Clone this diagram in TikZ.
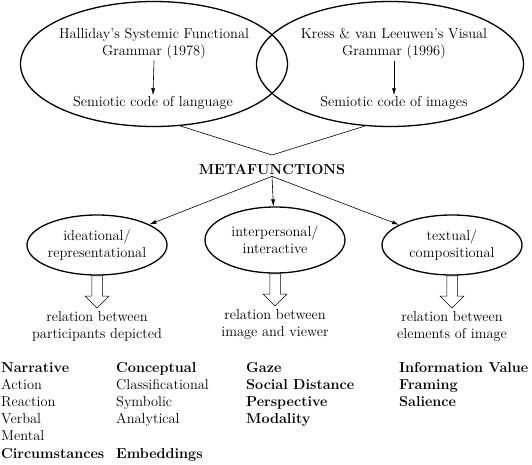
\documentclass[tikz,border=0pt]{standalone}
\usetikzlibrary{shapes.geometric, shapes.arrows, arrows.meta, positioning}

\begin{document}
\begin{tikzpicture}[
  x=1pt, y=-1pt,
  font=\fontsize{14.4}{17.2}\selectfont,
  node distance=2pt and 10pt,
  big/.style={
    draw,
    ellipse,
    line width=1.3pt,
    minimum width=267pt,
    minimum height=125pt
  },
  oval/.style={
    draw,
    ellipse,
    align=center,
    line width=1.3pt,
    inner sep=0pt,
    minimum width=140pt,
    minimum height=60pt
  },
  txt/.style={align=center, inner sep=1pt},
  hollow/.style={
    draw,
    single arrow,
    rotate=-90,
    line width=0.5pt,
    inner sep=5pt,
    minimum height=32pt,
    single arrow head extend=6.5pt
  },
  list/.style={align=left, anchor=north west, inner sep=0pt},
  arrow/.style={-{Latex[length=7pt, width=4pt]}, line width=0.6pt}
]
\useasboundingbox (0,0) rectangle (532,464);

% theories
\node[big] (hall) at (154,64) {};
\node[big] (kress) at (390,64) {};
\node[txt] (hallT) at (154,44) {Halliday's Systemic Functional\\Grammar (1978)};
\node[txt] (lang) at (153,103) {Semiotic code of language};
\node[txt] (kressT) at (394,44) {Kress \& van Leeuwen's Visual\\Grammar (1996)};
\node[txt] (img) at (394,103) {Semiotic code of images};
\draw[arrow] (hallT.south) -- (lang.north);
\draw[arrow] (kressT.south) -- (img.north);

\coordinate (vtip) at (272,155);
\draw[line width=0.6pt] (hall.-67) -- (vtip) -- (kress.-112);

% metafunctions
\node[txt, font=\fontsize{14.4}{17.2}\selectfont\bfseries] (meta) at (272,170) {METAFUNCTIONS};
\node[oval] (ideal) at (97,245) {ideational/\\representational};
\node[oval, minimum height=66pt] (inter) at (275,240) {interpersonal/\\interactive};
\node[oval] (textual) at (452,245) {textual/\\compositional};
\draw[arrow] (meta.south) -- (ideal);
\draw[arrow] (meta.south) -- (inter);
\draw[arrow] (meta.south) -- (textual);

\node[hollow, anchor=tail] (a1) at (ideal.south) {};
\node[hollow, anchor=tail] (a2) at (inter.south) {};
\node[hollow, anchor=tail] (a3) at (textual.south) {};
\node[txt, below=of a1.tip] (rel1) {relation between\\participants depicted};
\node[txt, below=of a2.tip] (rel2) {relation between\\image and viewer};
\node[txt, below=of a3.tip] (rel3) {relation between\\elements of image};

% categories
\node[list] (col1) at (1,362) {\textbf{Narrative}\\Action\\Reaction\\Verbal\\Mental\\\textbf{Circumstances}};
\node[list] (col2) at (116,362) {\textbf{Conceptual}\\Classificational\\Symbolic\\Analytical\\\mbox{}\\\textbf{Embeddings}};
\node[list, font=\fontsize{14.4}{17.2}\selectfont\bfseries] (col3) at (246,362) {Gaze\\Social Distance\\Perspective\\Modality};
\node[list, font=\fontsize{14.4}{17.2}\selectfont\bfseries] (col4) at (399,362) {Information Value\\Framing\\Salience};

\end{tikzpicture}
\end{document}
